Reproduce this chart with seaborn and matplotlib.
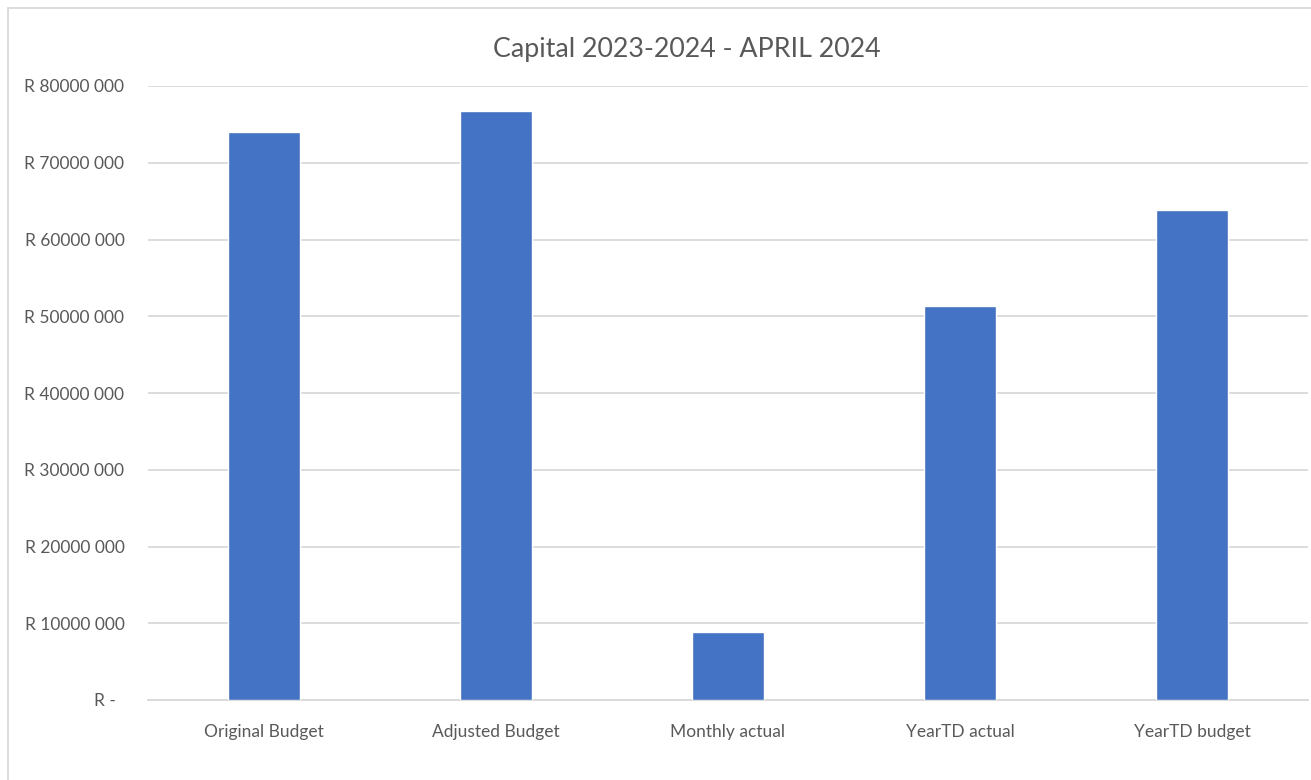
import numpy as np
import pandas as pd
import matplotlib
matplotlib.use("Agg")
import matplotlib.pyplot as plt
from matplotlib.patches import Rectangle
from matplotlib.ticker import FuncFormatter
import seaborn as sns

# values (Rand)
categories = ["Original Budget", "Adjusted Budget", "Monthly actual", "YearTD actual", "YearTD budget"]
amounts = [74000000, 76700000, 8800000, 51300000, 63800000]
yticks = [0, 10000000, 20000000, 30000000, 40000000, 50000000, 60000000, 70000000, 80000000]

df = pd.DataFrame({"item": categories, "amount": amounts})

sns.set_theme(style="white")
plt.rcParams['font.family'] = ['Lato', 'DejaVu Sans']

grey = "#595959"
fig = plt.figure(figsize=(13.11, 7.80), dpi=100)
ax = fig.add_axes([148 / 1311, 80 / 780, 1160 / 1311, 614 / 780])

sns.barplot(data=df, x="item", y="amount", color="#4472C4", width=0.31,
            saturation=1, ax=ax, zorder=3)

ax.set_ylim(0, 80000000)
ax.set_yticks(yticks)

def rand_fmt(v, pos):
    if v == 0:
        return "R -  "
    s = f"{int(v):,}".split(",")
    return "R " + "".join(s[:-1]) + " " + s[-1]

ax.yaxis.set_major_formatter(FuncFormatter(rand_fmt))
ax.grid(axis="y", color="#d9d9d9", linewidth=1.3, zorder=0)
ax.grid(axis="x", visible=False)
for side in ["top", "right", "left"]:
    ax.spines[side].set_visible(False)
ax.spines["bottom"].set_color("#d9d9d9")
ax.spines["bottom"].set_linewidth(1.3)
ax.tick_params(axis="both", length=0, colors=grey, labelsize=12.5)
ax.tick_params(axis="y", pad=17)
ax.tick_params(axis="x", pad=17)
ax.set_xlabel("")
ax.set_ylabel("")

fig.text(687 / 1311, 1 - 50 / 780, "Capital 2023-2024 - APRIL 2024",
         ha="center", va="center", fontsize=19.3, color=grey)

# chart border (right and bottom cut off in the original)
fig.patches.append(Rectangle((8 / 1311, -0.05), 1.2, 1 - 8 / 780 + 0.05,
                             transform=fig.transFigure, fill=False,
                             edgecolor="#d9d9d9", linewidth=1.3))

fig.savefig("out.png", dpi=100)
